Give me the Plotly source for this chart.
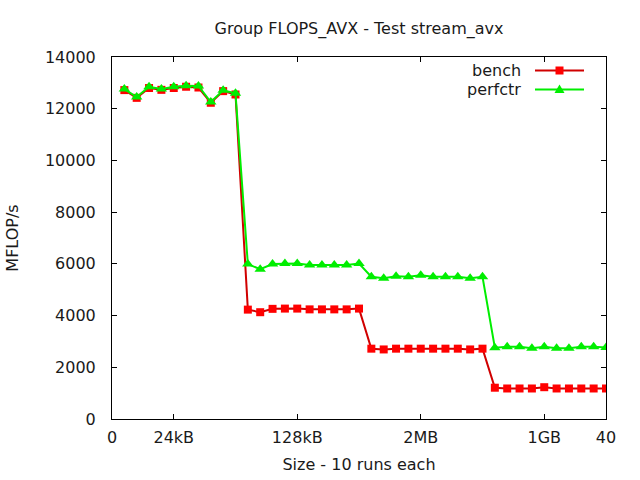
import plotly.graph_objects as go

x_runs = list(range(1, 41))
bench = [12720, 12420, 12800, 12730, 12800, 12850, 12820, 12230, 12680, 12550,
         4230, 4130, 4260, 4270, 4270, 4240, 4240, 4240, 4240, 4270,
         2720, 2690, 2720, 2720, 2720, 2720, 2720, 2720, 2690, 2720,
         1210, 1180, 1180, 1180, 1230, 1180, 1180, 1180, 1180, 1180]
perfctr = [12760, 12450, 12850, 12760, 12850, 12890, 12880, 12260, 12710, 12600,
           5990, 5790, 5990, 6010, 6010, 5960, 5960, 5960, 5960, 6010,
           5500, 5440, 5520, 5500, 5560, 5500, 5500, 5500, 5440, 5500,
           2760, 2790, 2790, 2740, 2790, 2740, 2740, 2790, 2790, 2770]
tick_vals = [0, 5, 15, 25, 35, 40]
tick_text = ["0", "24kB", "128kB", "2MB", "1GB", "40"]
y_ticks = [0, 2000, 4000, 6000, 8000, 10000, 12000, 14000]
y_tick_text = [str(v) for v in y_ticks]

FONT = "DejaVu Sans"
FS = 16
TXT = "#1a1a1a"
fig = go.Figure()
fig.add_trace(go.Scatter(x=x_runs, y=bench, mode="lines+markers", name="bench",
                         line=dict(color="#d00000", width=2),
                         marker=dict(symbol="square", size=8, color="#ff0000")))
fig.add_trace(go.Scatter(x=x_runs, y=perfctr, mode="lines+markers", name="perfctr",
                         line=dict(color="#00ee00", width=2),
                         marker=dict(symbol="triangle-up", size=10, color="#00ee00")))

# gnuplot-style legend (text right of sample line)
W, H = 640, 480
L, R, T, B = 112, 34, 57, 61
pw, ph = W - L - R, H - T - B
def px(xp):
    return (xp - L) / pw
def py(yp):
    return 1 - (yp - T) / ph

shapes = []
annotations = []
for label, yp, lc, mc, sym in [("bench", 70.5, "#d00000", "#ff0000", "sq"),
                               ("perfctr", 89.5, "#00ee00", "#00ee00", "tri")]:
    shapes.append(dict(type="line", xref="paper", yref="paper",
                       x0=px(535), x1=px(584), y0=py(yp), y1=py(yp),
                       line=dict(color=lc, width=2)))
    if sym == "sq":
        shapes.append(dict(type="rect", xref="paper", yref="paper",
                           x0=px(555.5), x1=px(563.5), y0=py(yp + 4), y1=py(yp - 4),
                           fillcolor=mc, line=dict(width=0)))
    else:
        shapes.append(dict(type="path", xref="paper", yref="paper",
                           path=f"M {px(554.5)} {py(yp+3.5)} L {px(564.5)} {py(yp+3.5)} L {px(559.5)} {py(yp-5)} Z",
                           fillcolor=mc, line=dict(width=0)))
    annotations.append(dict(text=label, xref="paper", yref="paper",
                            x=px(523), y=py(yp), xanchor="right", yanchor="middle",
                            showarrow=False, font=dict(family=FONT, size=FS, color=TXT)))

fig.update_layout(
    width=W, height=H,
    margin=dict(l=L, r=R, t=T, b=B),
    paper_bgcolor="white", plot_bgcolor="white",
    showlegend=False,
    font=dict(family=FONT, size=FS, color=TXT),
    title=dict(text="Group FLOPS_AVX - Test stream_avx", x=(L + pw / 2) / W, xanchor="center",
               y=1 - 28 / H, yanchor="middle", font=dict(family=FONT, size=FS, color=TXT)),
    xaxis=dict(range=[0, 40], tickvals=tick_vals, ticktext=tick_text, automargin=False,
               showgrid=False, zeroline=False, showline=True, linecolor="black", linewidth=1,
               mirror="ticks", ticks="inside", ticklen=5, tickcolor="black",
               ticklabelstandoff=4,
               title=dict(text="Size - 10 runs each", standoff=12, font=dict(family=FONT, size=FS)),
               tickfont=dict(family=FONT, size=FS)),
    yaxis=dict(range=[0, 14000], tickvals=y_ticks, ticktext=y_tick_text, automargin=False,
               showgrid=False, zeroline=False, showline=True, linecolor="black", linewidth=1,
               mirror="ticks", ticks="inside", ticklen=5, tickcolor="black",
               ticklabelstandoff=12,
               title=dict(text="MFLOP/s", standoff=22, font=dict(family=FONT, size=FS)),
               tickfont=dict(family=FONT, size=FS)),
    shapes=shapes, annotations=annotations,
)
fig.write_html("out.html")
